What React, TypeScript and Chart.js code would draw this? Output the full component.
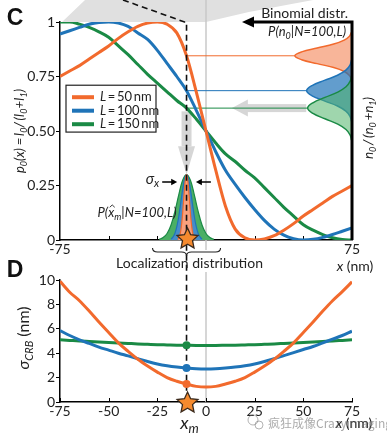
import React, { useEffect, useRef } from "react";
import { Chart, registerables } from "chart.js";
Chart.register(...registerables);

const FONT = "Lato, 'Open Sans', sans-serif";
const ORANGE = "#f26a2d";
const BLUE = "#1f74b8";
const GREEN = "#1a8a45";
const GREY = "#d6d6d6";

// ---------- Panel C : p0(x) ----------
const xPos = [-75, -70, -65, -60, -55, -50, -45, -40, -35, -30, -25, -20, -15, -10, -5, 0, 5, 10, 15, 20, 25, 30, 35, 40, 45, 50, 55, 60, 65, 70, 75];
const p0L50 = [0.75, 0.775, 0.8, 0.83, 0.86, 0.89, 0.925, 0.955, 0.98, 0.995, 1.0, 0.99, 0.95, 0.845, 0.68, 0.5, 0.32, 0.155, 0.05, 0.01, 0.0, 0.005, 0.02, 0.045, 0.075, 0.11, 0.14, 0.17, 0.2, 0.225, 0.25];
const p0L100 = [0.945, 0.96, 0.975, 0.99, 0.998, 1.0, 0.995, 0.98, 0.95, 0.92, 0.87, 0.81, 0.75, 0.685, 0.595, 0.5, 0.405, 0.32, 0.255, 0.195, 0.14, 0.09, 0.05, 0.022, 0.006, 0.0, 0.003, 0.012, 0.025, 0.04, 0.055];
const p0L150 = [1.0, 1.0, 0.99, 0.975, 0.955, 0.93, 0.89, 0.85, 0.805, 0.76, 0.72, 0.68, 0.64, 0.605, 0.555, 0.5, 0.445, 0.395, 0.36, 0.32, 0.285, 0.24, 0.195, 0.15, 0.11, 0.07, 0.045, 0.025, 0.01, 0.002, 0.0];
const xm = -10;
const labelsL = ["50", "100", "150"];

// localization distributions (x, density)
const locXGreen = [-24, -22, -20, -18, -16, -14, -12, -10, -8, -6, -4, -2, 0, 2, 4];
const locGreen = [0.003, 0.011, 0.03, 0.068, 0.13, 0.207, 0.274, 0.3, 0.274, 0.207, 0.13, 0.068, 0.03, 0.011, 0.003];
const locXBlue = [-18, -17, -16, -15, -14, -13, -12, -11, -10, -9, -8, -7, -6, -5, -4, -3, -2];
const locBlue = [0.004, 0.013, 0.03, 0.061, 0.108, 0.169, 0.232, 0.281, 0.3, 0.281, 0.232, 0.169, 0.108, 0.061, 0.03, 0.013, 0.004];
const locXOrange = [-14.5, -14, -13.5, -13, -12.5, -12, -11.5, -11, -10.5, -10, -9.5, -9, -8.5, -8, -7.5, -7, -6.5, -6, -5.5];
const locOrange = [0.003, 0.009, 0.02, 0.041, 0.075, 0.123, 0.182, 0.24, 0.284, 0.3, 0.284, 0.24, 0.182, 0.123, 0.075, 0.041, 0.02, 0.009, 0.003];

// binomial distributions (value n0/(n0+n1), horizontal extent in x units)
const binYOrange = [0.953, 0.935, 0.917, 0.899, 0.881, 0.863, 0.845, 0.827, 0.809, 0.791, 0.773, 0.755, 0.737];
const binXOrange = [74.7, 73.7, 71.0, 65.6, 57.1, 49.1, 45.6, 49.1, 57.1, 65.6, 71.0, 73.7, 74.7];
const binYBlue = [0.826, 0.8025, 0.779, 0.7555, 0.732, 0.7085, 0.685, 0.6615, 0.638, 0.6145, 0.591, 0.5675, 0.544];
const binXBlue = [74.74, 73.97, 71.85, 67.54, 60.79, 54.5, 51.7, 54.5, 60.79, 67.54, 71.85, 73.97, 74.74];
const binYGreen = [0.752, 0.7275, 0.703, 0.6785, 0.654, 0.6295, 0.605, 0.5805, 0.556, 0.5315, 0.507, 0.4825, 0.458];
const binXGreen = [74.75, 74.0, 71.92, 67.7, 61.09, 54.94, 52.2, 54.94, 61.09, 67.7, 71.92, 74.0, 74.75];

// ---------- Panel D : sigma_CRB ----------
const sigL50 = [9.9, 9.0, 8.3, 7.45, 6.55, 5.7, 4.85, 4.15, 3.5, 2.95, 2.45, 2.0, 1.7, 1.47, 1.28, 1.22, 1.28, 1.47, 1.7, 2.0, 2.45, 2.95, 3.5, 4.15, 4.85, 5.7, 6.55, 7.45, 8.3, 9.05, 9.85];
const sigL100 = [5.85, 5.45, 5.1, 4.8, 4.5, 4.25, 4.0, 3.78, 3.55, 3.32, 3.12, 2.97, 2.86, 2.78, 2.72, 2.7, 2.72, 2.78, 2.86, 2.97, 3.12, 3.32, 3.55, 3.8, 4.05, 4.3, 4.55, 4.85, 5.15, 5.45, 5.8];
const sigL150 = [5.1, 5.05, 5.0, 4.96, 4.92, 4.88, 4.84, 4.8, 4.76, 4.73, 4.7, 4.68, 4.66, 4.65, 4.64, 4.64, 4.64, 4.65, 4.66, 4.68, 4.7, 4.73, 4.76, 4.8, 4.84, 4.88, 4.92, 4.96, 5.0, 5.05, 5.1];
const ticksCx = [-75, 75];
const ticksCy = [0, 0.25, 0.5, 0.75, 1];
const ticksDx = [-75, -50, -25, 0, 25, 50, 75];
const ticksDy = [0, 2, 4, 6, 8, 10];

const pts = (xs: number[], ys: number[]) => xs.map((x, i) => ({ x, y: ys[i] }));

type Part = { t: string; i?: boolean; sub?: boolean; hat?: boolean };
function drawRich(ctx: CanvasRenderingContext2D, parts: Part[], x: number, y: number, size: number, align: string, rot = 0, color = "#222") {
  ctx.save();
  ctx.translate(x, y);
  ctx.rotate(rot);
  const fontFor = (p: Part) => `${p.i ? "italic " : ""}${p.sub ? Math.round(size * 0.7) : size}px ${FONT}`;
  let total = 0;
  const widths = parts.map((p) => {
    ctx.font = fontFor(p);
    const w = ctx.measureText(p.t).width;
    total += w;
    return w;
  });
  let cx = align === "left" ? 0 : align === "center" ? -total / 2 : -total;
  ctx.textBaseline = "middle";
  ctx.textAlign = "left";
  ctx.fillStyle = color;
  ctx.strokeStyle = color;
  parts.forEach((p, k) => {
    ctx.font = fontFor(p);
    const dy = p.sub ? size * 0.32 : 0;
    ctx.fillText(p.t, cx, dy);
    if (p.hat) {
      const mx = cx + widths[k] / 2 + 1;
      ctx.lineWidth = 0.9;
      ctx.beginPath();
      ctx.moveTo(mx - 2.5, -size * 0.42);
      ctx.lineTo(mx, -size * 0.6);
      ctx.lineTo(mx + 2.5, -size * 0.42);
      ctx.stroke();
    }
    cx += widths[k];
  });
  ctx.restore();
}

function drawStar(ctx: CanvasRenderingContext2D, cx: number, cy: number, R: number) {
  const r = R * 0.48;
  ctx.save();
  ctx.beginPath();
  for (let k = 0; k < 10; k++) {
    const rad = k % 2 === 0 ? R : r;
    const a = -Math.PI / 2 + (k * Math.PI) / 5;
    const X = cx + rad * Math.cos(a);
    const Y = cy + rad * Math.sin(a);
    if (k === 0) ctx.moveTo(X, Y);
    else ctx.lineTo(X, Y);
  }
  ctx.closePath();
  ctx.fillStyle = "#f58a2e";
  ctx.fill();
  ctx.lineWidth = 1.3;
  ctx.strokeStyle = "#3b2a1c";
  ctx.stroke();
  ctx.restore();
}

function arrowHead(ctx: CanvasRenderingContext2D, tx: number, ty: number, dirx: number, diry: number, len: number, half: number) {
  const bx = tx - dirx * len;
  const by = ty - diry * len;
  ctx.beginPath();
  ctx.moveTo(tx, ty);
  ctx.lineTo(bx - diry * half, by + dirx * half);
  ctx.lineTo(bx + diry * half, by - dirx * half);
  ctx.closePath();
  ctx.fill();
}

function innerTicks(chart: any, values: number[]) {
  const ctx = chart.ctx;
  const sx = chart.scales.x;
  const b = chart.chartArea.bottom;
  ctx.save();
  ctx.strokeStyle = "#000";
  ctx.lineWidth = 1;
  values.forEach((v) => {
    const X = Math.round(sx.getPixelForValue(v)) + 0.5;
    ctx.beginPath();
    ctx.moveTo(X, b);
    ctx.lineTo(X, b - 4);
    ctx.stroke();
  });
  ctx.restore();
}

const decorC = {
  id: "decorC",
  beforeDatasetsDraw(chart: any) {
    const ctx = chart.ctx as CanvasRenderingContext2D;
    const sx = chart.scales.x;
    const sy = chart.scales.y;
    const { top, bottom, left } = chart.chartArea;
    const X = (v: number) => sx.getPixelForValue(v);
    const Y = (v: number) => sy.getPixelForValue(v);
    ctx.save();
    // grey projection band on top
    ctx.fillStyle = "#e0e0e0";
    ctx.beginPath();
    ctx.moveTo(left + 2, top);
    ctx.lineTo(left + 25, 0);
    ctx.lineTo(X(55), 0);
    ctx.lineTo(X(22), top - 10);
    ctx.lineTo(X(0), top);
    ctx.closePath();
    ctx.fill();
    // grey vertical at x = 0
    ctx.strokeStyle = "#c8c8c8";
    ctx.lineWidth = 1.5;
    ctx.beginPath();
    ctx.moveTo(X(0), 0);
    ctx.lineTo(X(0), bottom + 10);
    ctx.stroke();
    // grey arrow left at the green value
    ctx.fillStyle = GREY;
    const yg = Y(p0L150[13]);
    ctx.fillRect(X(13.3) + 14, yg - 4, X(51.5) - X(13.3) - 14, 8);
    arrowHead(ctx, X(13.3), yg, -1, 0, 16, 8.5);
    // grey arrow down at xm
    const xmP = X(xm);
    ctx.fillRect(xmP - 5, Y(0.59), 10, Y(0.43) - Y(0.59));
    arrowHead(ctx, xmP, Y(0.3), 0, 1, Y(0.3) - Y(0.43), 8.5);
    ctx.restore();
    innerTicks(chart, [-50, -25, 0, 25, 50]);
  },
  afterDatasetsDraw(chart: any) {
    const ctx = chart.ctx as CanvasRenderingContext2D;
    const sx = chart.scales.x;
    const sy = chart.scales.y;
    const { top, bottom, left, right } = chart.chartArea;
    const X = (v: number) => sx.getPixelForValue(v);
    const Y = (v: number) => sy.getPixelForValue(v);
    const xmP = X(xm);
    ctx.save();
    // dashed projection line
    ctx.strokeStyle = "#111";
    ctx.lineWidth = 1.6;
    ctx.setLineDash([6, 4]);
    ctx.beginPath();
    ctx.moveTo(left + 63, 0);
    ctx.lineTo(xmP - 2, top);
    ctx.lineTo(xmP, top);
    ctx.lineTo(xmP, 394);
    ctx.stroke();
    ctx.setLineDash([]);
    // right axis + arrow on top
    ctx.strokeStyle = "#000";
    ctx.fillStyle = "#000";
    ctx.lineWidth = 3;
    ctx.beginPath();
    ctx.moveTo(right, bottom);
    ctx.lineTo(right, top);
    ctx.lineTo(X(24), top);
    ctx.stroke();
    arrowHead(ctx, X(18.5), top, -1, 0, 12, 5.5);
    ctx.restore();

    // texts
    ctx.save();
    ctx.font = `bold 23px 'Liberation Sans', Arial, sans-serif`;
    ctx.fillStyle = "#111";
    ctx.textBaseline = "middle";
    ctx.textAlign = "center";
    ctx.fillText("C", 15, 19);
    ctx.restore();
    drawRich(ctx, [{ t: "Binomial distr." }], right - 4, top - 9, 14, "right");
    drawRich(ctx, [{ t: "P(n", i: true }, { t: "0", i: true, sub: true }, { t: "|N=100,L)", i: true }], right - 6, top + 10, 13, "right");

    // legend
    ctx.save();
    ctx.fillStyle = "#fff";
    ctx.strokeStyle = "#222";
    ctx.lineWidth = 1.2;
    ctx.fillRect(left + 6, Y(0.71), 90, Y(0.495) - Y(0.71));
    ctx.strokeRect(left + 6, Y(0.71), 90, Y(0.495) - Y(0.71));
    const cols = [ORANGE, BLUE, GREEN];
    cols.forEach((c, k) => {
      const yy = Y(0.655) + k * 13.5;
      ctx.strokeStyle = c;
      ctx.lineWidth = 4;
      ctx.beginPath();
      ctx.moveTo(left + 12, yy);
      ctx.lineTo(left + 34, yy);
      ctx.stroke();
      drawRich(ctx, [{ t: "L", i: true }, { t: "\u2009=\u2009" + labelsL[k] + "\u2009nm" }], left + 40, yy, 13, "left");
    });
    ctx.restore();

    // sigma_x arrows
    ctx.save();
    ctx.strokeStyle = "#000";
    ctx.fillStyle = "#000";
    ctx.lineWidth = 1.3;
    const ya = Y(0.266);
    const la = X(xm - 4.8);
    const ra = X(xm + 4.8);
    ctx.beginPath();
    ctx.moveTo(la - 15, ya);
    ctx.lineTo(la - 4, ya);
    ctx.moveTo(ra + 15, ya);
    ctx.lineTo(ra + 4, ya);
    ctx.stroke();
    arrowHead(ctx, la, ya, 1, 0, 6, 3.2);
    arrowHead(ctx, ra, ya, -1, 0, 6, 3.2);
    ctx.restore();
    drawRich(ctx, [{ t: "\u03c3", i: true }, { t: "x", i: true, sub: true }], la - 18, ya - 3, 15, "right");
    drawRich(ctx, [{ t: "P(", i: true }, { t: "x", i: true, hat: true }, { t: "m", i: true, sub: true }, { t: "|N=100,L)", i: true }], xmP - 10, Y(0.125), 13, "right");

    // brace
    ctx.save();
    ctx.strokeStyle = "#222";
    ctx.lineWidth = 1.1;
    const bx0 = xmP - 34;
    const bx1 = xmP + 34;
    const by0 = bottom + 8;
    const h = 8;
    ctx.beginPath();
    ctx.moveTo(bx0, by0);
    ctx.quadraticCurveTo(bx0, by0 + h / 2, bx0 + 5, by0 + h / 2);
    ctx.lineTo(xmP - 5, by0 + h / 2);
    ctx.quadraticCurveTo(xmP, by0 + h / 2, xmP, by0 + h);
    ctx.quadraticCurveTo(xmP, by0 + h / 2, xmP + 5, by0 + h / 2);
    ctx.lineTo(bx1 - 5, by0 + h / 2);
    ctx.quadraticCurveTo(bx1, by0 + h / 2, bx1, by0);
    ctx.stroke();
    ctx.restore();
    drawRich(ctx, [{ t: "Localization distribution" }], xmP + 3, bottom + 23, 14, "center");
    drawStar(ctx, xmP + 1, bottom - 1, 11);
    drawRich(ctx, [{ t: "x", i: true }, { t: " (nm)" }], right + 3, bottom + 26, 14, "center");
    // axis titles
    drawRich(ctx, [{ t: "p", i: true }, { t: "0", i: true, sub: true }, { t: "(x) =\u2009I", i: true }, { t: "0", i: true, sub: true }, { t: "/\u2009(I", i: true }, { t: "0", i: true, sub: true }, { t: "+I", i: true }, { t: "1", i: true, sub: true }, { t: ")", i: true }], 20, 131, 13, "center", -Math.PI / 2);
    drawRich(ctx, [{ t: "n", i: true }, { t: "0", i: true, sub: true }, { t: "\u2009/\u2009(n", i: true }, { t: "0", i: true, sub: true }, { t: "\u2009+n", i: true }, { t: "1", i: true, sub: true }, { t: ")", i: true }], 369, 128, 13.5, "center", -Math.PI / 2);
  },
};

const decorD = {
  id: "decorD",
  beforeDatasetsDraw(chart: any) {
    const ctx = chart.ctx as CanvasRenderingContext2D;
    const sx = chart.scales.x;
    const { top, bottom } = chart.chartArea;
    ctx.save();
    ctx.strokeStyle = "#c8c8c8";
    ctx.lineWidth = 1.5;
    ctx.beginPath();
    ctx.moveTo(sx.getPixelForValue(0), top - 8);
    ctx.lineTo(sx.getPixelForValue(0), bottom);
    ctx.stroke();
    ctx.restore();
    innerTicks(chart, ticksDx);
  },
  afterDatasetsDraw(chart: any) {
    const ctx = chart.ctx as CanvasRenderingContext2D;
    const sx = chart.scales.x;
    const sy = chart.scales.y;
    const { bottom, right } = chart.chartArea;
    const xmP = sx.getPixelForValue(xm);
    drawStar(ctx, xmP + 1, sy.getPixelForValue(0) + 1, 11);
    ctx.save();
    ctx.font = `bold 23px 'Liberation Sans', Arial, sans-serif`;
    ctx.fillStyle = "#111";
    ctx.textBaseline = "middle";
    ctx.textAlign = "center";
    ctx.fillText("D", 15, 271);
    ctx.restore();
    drawRich(ctx, [{ t: "x", i: true }, { t: "m", i: true, sub: true }], xmP + 3, bottom + 21, 18, "center");
    drawRich(ctx, [{ t: "x", i: true }, { t: " (nm)" }], right + 2, bottom + 21, 14, "center");
    drawRich(ctx, [{ t: "\u03c3", i: true }, { t: "CRB", i: true, sub: true }, { t: " (nm)" }], 24, 338, 16, "center", -Math.PI / 2);
    // watermark
    ctx.save();
    ctx.globalAlpha = 0.55;
    ctx.strokeStyle = "#777";
    ctx.lineWidth = 1;
    ctx.beginPath();
    ctx.arc(253, 420, 5, 0, Math.PI * 2);
    ctx.stroke();
    ctx.beginPath();
    ctx.arc(259, 425, 4, 0, Math.PI * 2);
    ctx.stroke();
    ctx.fillStyle = "#666";
    ctx.font = `12px 'Noto Sans CJK SC', sans-serif`;
    ctx.textBaseline = "middle";
    ctx.textAlign = "left";
    ctx.fillText("\u75af\u72c2\u6210\u50cfCrazyimaging", 268, 423);
    ctx.restore();
  },
};

const tickFont = { family: FONT, size: 14 };

export default function App() {
  const refC = useRef<HTMLCanvasElement>(null);
  const refD = useRef<HTMLCanvasElement>(null);
  useEffect(() => {
    const line = (label: string, data: any[], color: string, order: number) => ({
      label, data, borderColor: color, borderWidth: 3, pointRadius: 0, fill: false, cubicInterpolationMode: "monotone", order,
    });
    const cfgC: any = {
      type: "line",
      data: {
        datasets: [
          line("L=50", pts(xPos, p0L50), ORANGE, 1),
          line("L=100", pts(xPos, p0L100), BLUE, 2),
          line("L=150", pts(xPos, p0L150), GREEN, 3),
          { data: [{ x: xm, y: p0L50[13] }, { x: binXOrange[6], y: p0L50[13] }], borderColor: ORANGE, borderWidth: 1, pointRadius: 0, order: 4 },
          { data: [{ x: xm, y: p0L100[13] }, { x: binXBlue[6], y: p0L100[13] }], borderColor: BLUE, borderWidth: 1, pointRadius: 0, order: 4 },
          { data: [{ x: xm, y: p0L150[13] }, { x: binXGreen[6], y: p0L150[13] }], borderColor: GREEN, borderWidth: 1, pointRadius: 0, order: 4 },
          { indexAxis: "y", data: pts(binXGreen, binYGreen), borderColor: GREEN, borderWidth: 1.5, backgroundColor: "rgba(80,180,105,0.55)", fill: { value: 75 }, pointRadius: 0, tension: 0.4, order: 5 },
          { indexAxis: "y", data: pts(binXBlue, binYBlue), borderColor: BLUE, borderWidth: 1.5, backgroundColor: "rgba(31,116,184,0.7)", fill: { value: 75 }, pointRadius: 0, tension: 0.4, order: 6 },
          { indexAxis: "y", data: pts(binXOrange, binYOrange), borderColor: ORANGE, borderWidth: 1.5, backgroundColor: "rgba(242,120,70,0.55)", fill: { value: 75 }, pointRadius: 0, tension: 0.4, order: 7 },
          { data: pts(locXOrange, locOrange), borderColor: ORANGE, borderWidth: 1.2, backgroundColor: "rgba(248,160,125,1)", fill: "origin", pointRadius: 0, tension: 0.4, order: 8 },
          { data: pts(locXBlue, locBlue), borderColor: BLUE, borderWidth: 1.2, backgroundColor: "rgba(70,140,200,1)", fill: "origin", pointRadius: 0, tension: 0.4, order: 9 },
          { data: pts(locXGreen, locGreen), borderColor: GREEN, borderWidth: 1.2, backgroundColor: "rgba(75,175,100,1)", fill: "origin", pointRadius: 0, tension: 0.4, order: 10 },
        ],
      },
      options: {
        responsive: false,
        animation: false,
        layout: { padding: { left: 20, right: 35, top: 22, bottom: 181 } },
        plugins: { legend: { display: false }, tooltip: { enabled: false } },
        scales: {
          x: {
            type: "linear", min: -75, max: 75,
            afterFit: (s: any) => { s.height = 20; },
            afterBuildTicks: (s: any) => { s.ticks = ticksCx.map((v) => ({ value: v })); },
            ticks: { font: tickFont, color: "#222", padding: 1, maxRotation: 0, autoSkip: false },
            grid: { display: false, drawTicks: false },
            border: { display: true, color: "#000", width: 1.5 },
          },
          y: {
            type: "linear", min: 0, max: 1,
            afterFit: (s: any) => { s.width = 40; },
            afterBuildTicks: (s: any) => { s.ticks = ticksCy.map((v) => ({ value: v })); },
            ticks: { font: tickFont, color: "#222", padding: 1, callback: (v: number) => (v === 0 || v === 1 ? String(v) : v.toFixed(2)) },
            grid: { drawOnChartArea: false, drawTicks: true, tickLength: 4, color: "#000" },
            border: { display: true, color: "#000", width: 1.5 },
          },
        },
      },
      plugins: [decorC],
    };
    const dot = (ctx: any) => (ctx.raw && ctx.raw.x === xm ? 4 : 0);
    const lineD = (data: any[], color: string, order: number) => ({
      data, borderColor: color, backgroundColor: color, borderWidth: 3, pointRadius: dot, pointBorderWidth: 0, cubicInterpolationMode: "monotone", order,
    });
    const cfgD: any = {
      type: "line",
      data: {
        datasets: [
          lineD(pts(xPos, sigL50), ORANGE, 1),
          lineD(pts(xPos, sigL100), BLUE, 2),
          lineD(pts(xPos, sigL150), GREEN, 3),
        ],
      },
      options: {
        responsive: false,
        animation: false,
        layout: { padding: { left: 20, right: 35, top: 280, bottom: 19 } },
        plugins: { legend: { display: false }, tooltip: { enabled: false } },
        scales: {
          x: {
            type: "linear", min: -75, max: 75,
            afterFit: (s: any) => { s.height = 20; },
            afterBuildTicks: (s: any) => { s.ticks = ticksDx.map((v) => ({ value: v })); },
            ticks: { font: tickFont, color: "#222", padding: 1, maxRotation: 0, autoSkip: false },
            grid: { display: false, drawTicks: false },
            border: { display: true, color: "#000", width: 1.5 },
          },
          y: {
            type: "linear", min: 0, max: 10,
            afterFit: (s: any) => { s.width = 40; },
            afterBuildTicks: (s: any) => { s.ticks = ticksDy.map((v) => ({ value: v })); },
            ticks: { font: tickFont, color: "#222", padding: 1 },
            grid: { drawOnChartArea: false, drawTicks: true, tickLength: 4, color: "#000" },
            border: { display: true, color: "#000", width: 1.5 },
          },
        },
      },
      plugins: [decorD],
    };
    const c1 = new Chart(refC.current as HTMLCanvasElement, cfgC);
    const c2 = new Chart(refD.current as HTMLCanvasElement, cfgD);
    return () => {
      c1.destroy();
      c2.destroy();
    };
  }, []);
  return (
    <div style={{ position: "fixed", left: 0, top: 0, width: 387, height: 441, background: "#fff" }}>
      <canvas ref={refC} width={387} height={441} style={{ position: "absolute", left: 0, top: 0 }} />
      <canvas ref={refD} width={387} height={441} style={{ position: "absolute", left: 0, top: 0 }} />
    </div>
  );
}
